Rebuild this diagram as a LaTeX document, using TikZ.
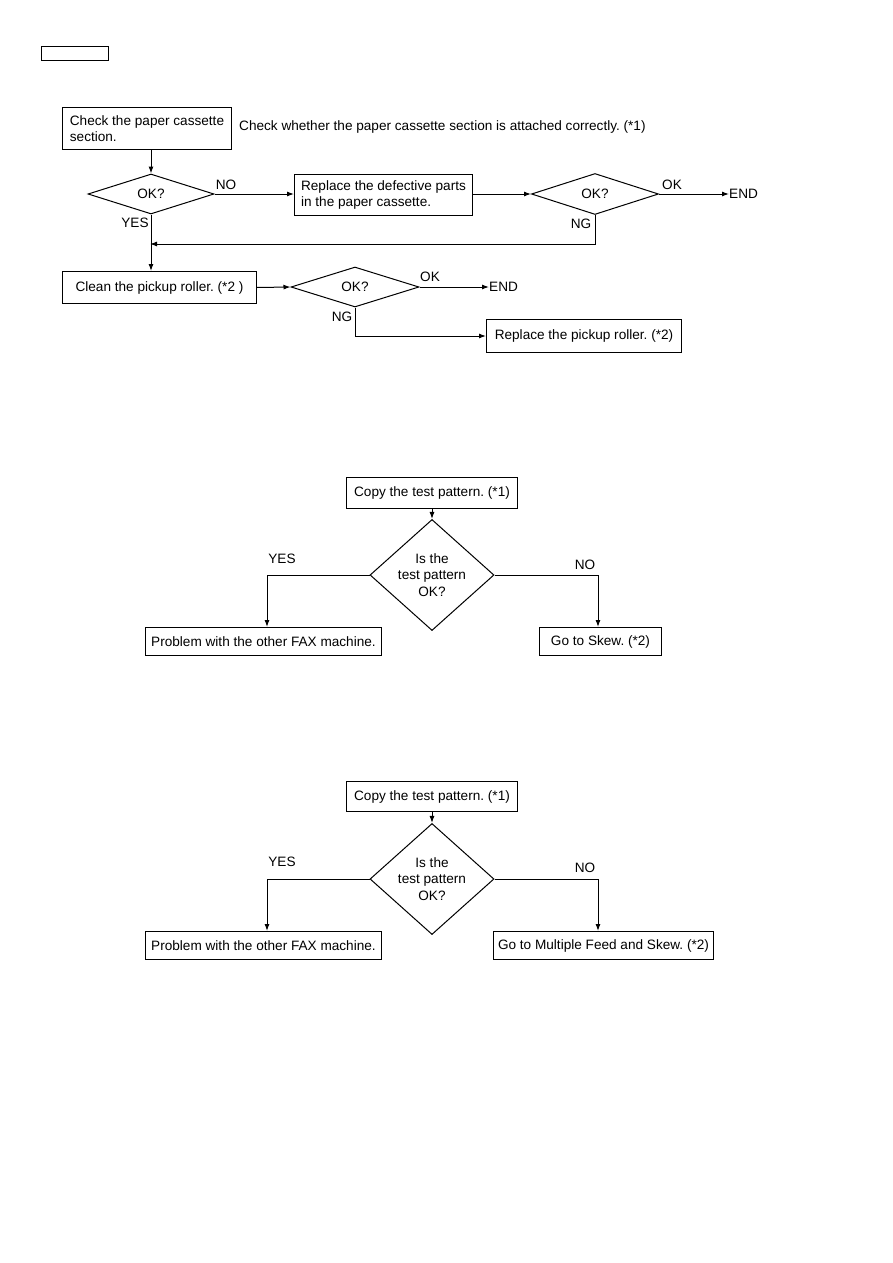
\documentclass[tikz,border=0pt]{standalone}
\usepackage{fontspec}
\setmainfont{Liberation Sans}
\usetikzlibrary{shapes.geometric,arrows.meta}
\begin{document}
\frenchspacing
\begin{tikzpicture}[x=1pt,y=-1pt,
  every node/.style={font=\fontsize{13.6}{16}\selectfont},
  box/.style={draw,line width=1pt,inner sep=0pt,anchor=north west},
  dia/.style={draw,line width=1pt,diamond,inner sep=0pt,align=center},
  lbl/.style={inner sep=0pt},
  arr/.style={line width=1pt,-{Latex[length=7pt,width=5pt]}},
  ln/.style={line width=1pt}]
\useasboundingbox (0,0) rectangle (893,1263);
\node[box,minimum width=67pt,minimum height=14pt] (hdr) at (41,46) {};
% section 1
\node[box,minimum width=169pt,minimum height=42pt,align=left] (chk) at (62,107) {Check the paper cassette\\section.};
\node[lbl,anchor=west] (note) at (239,127) {Check whether the paper cassette section is attached correctly. (*1)};
\node[dia,minimum width=126pt,minimum height=40pt] (d1) at (151,194) {OK?};
\node[box,minimum width=178pt,minimum height=41pt,align=left] (rep) at (294,174) {Replace the defective parts\\in the paper cassette.};
\node[dia,minimum width=127pt,minimum height=41pt] (d2) at (595,194) {OK?};
\node[lbl,anchor=west] (end1) at (729,194) {END};
\node[box,minimum width=194pt,minimum height=32pt] (cln) at (62,271) {Clean the pickup roller. (*2 )};
\node[dia,minimum width=128pt,minimum height=40pt] (d3) at (355,287) {OK?};
\node[lbl,anchor=west] (end2) at (489,287) {END};
\node[box,minimum width=195pt,minimum height=33pt] (rpk) at (486,319) {Replace the pickup roller. (*2)};
\node[lbl] (l1) at (226,185) {NO};
\node[lbl] (l2) at (135,223) {YES};
\node[lbl] (l3) at (672,185) {OK};
\node[lbl] (l4) at (581,224) {NG};
\node[lbl] (l5) at (430,277) {OK};
\node[lbl] (l6) at (342,317) {NG};
\coordinate (fb) at (150,244);
\draw[arr] (chk.south -| d1.north) -- (d1.north);
\draw[arr] (d1.east) -- (d1.east -| rep.west);
\draw[arr] (d2.west -| rep.east) -- (d2.west);
\draw[arr] (d2.east) -- (end1.west);
\draw[arr] (d2.south) |- (fb);
\draw[arr] (d1.south) -- (d1.south |- cln.north);
\draw[arr] (cln.east) -- (d3.west);
\draw[arr] (d3.east) -- (end2.west);
\draw[arr] (d3.south) |- (rpk.west);
% section 2
\node[box,minimum width=171pt,minimum height=31pt] (cp1) at (346,477) {Copy the test pattern. (*1)};
\node[dia,minimum width=124pt,minimum height=78pt,font=\fontsize{13.6}{16.5}\selectfont] (d4) at (432,575) {Is the\\test pattern\\OK?};
\node[box,minimum width=236pt,minimum height=28pt] (pr1) at (145,627) {Problem with the other FAX machine.};
\node[box,minimum width=122pt,minimum height=28pt] (sk1) at (539,627) {Go to Skew. (*2)};
\node[lbl] (l7) at (282,559) {YES};
\node[lbl] (l8) at (585,565) {NO};
\draw[arr] (cp1.south -| d4.north) -- (d4.north);
\draw[arr] (d4.west) -| (pr1.north -| 267,0);
\draw[arr] (d4.east) -| (sk1.north -| 598,0);
% section 3
\node[box,minimum width=171pt,minimum height=30pt] (cp2) at (346,781) {Copy the test pattern. (*1)};
\node[dia,minimum width=124pt,minimum height=78pt,font=\fontsize{13.6}{16.5}\selectfont] (d5) at (432,879) {Is the\\test pattern\\OK?};
\node[box,minimum width=236pt,minimum height=28pt] (pr2) at (145,931) {Problem with the other FAX machine.};
\node[box,minimum width=220pt,minimum height=28pt] (sk2) at (493,931) {Go to Multiple Feed and Skew. (*2)};
\node[lbl] (l9) at (282,862) {YES};
\node[lbl] (l10) at (585,868) {NO};
\draw[arr] (cp2.south -| d5.north) -- (d5.north);
\draw[arr] (d5.west) -| (pr2.north -| 267,0);
\draw[arr] (d5.east) -| (sk2.north -| 598,0);
\end{tikzpicture}
\end{document}
